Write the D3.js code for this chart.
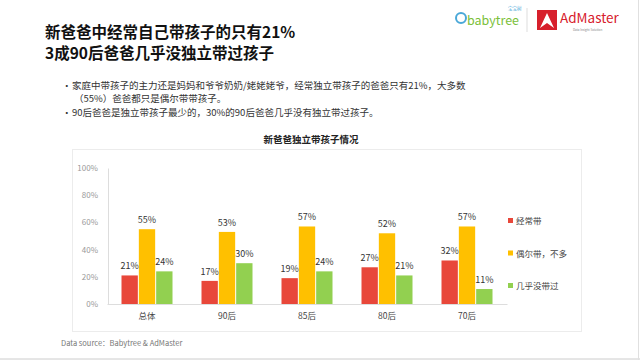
<!DOCTYPE html>
<html><head><meta charset="utf-8">
<script src="https://cdn.jsdelivr.net/npm/d3@7"></script>
<style>body{margin:0;background:#fff}svg{display:block}text{font-family:"Noto Sans CJK SC","Noto Sans",sans-serif}</style>
</head><body><svg id="c" width="640" height="360"></svg>
<script>
const categories = ["总体","90后","85后","80后","70后"];
const seriesNames = ["经常带","偶尔带，不多","几乎没带过"];
const often = [21,17,19,27,32];
const sometimes = [55,53,57,52,57];
const never = [24,30,24,21,11];
const yTicks = [0,20,40,60,80,100];
const colors = ["#E8473A","#FFC000","#92D050"];
const series = [often, sometimes, never];

const svg = d3.select("#c");
// slide border
svg.append("line").attr("x1",0).attr("x2",640).attr("y1",359).attr("y2",359).attr("stroke","#ccc");
svg.append("line").attr("x1",638.5).attr("x2",638.5).attr("y1",0).attr("y2",360).attr("stroke","#e0e0e0");

// title
const t = svg.append("g").attr("font-weight","bold").attr("font-size",15.5).attr("fill","#111");
t.append("text").attr("x",45).attr("y",38).text("新爸爸中经常自己带孩子的只有21%");
t.append("text").attr("x",45).attr("y",59).text("3成90后爸爸几乎没独立带过孩子");

// bullets
const b = svg.append("g").attr("font-size",9.5).attr("fill","#333");
b.append("text").attr("x",62).attr("y",89).text("•");
b.append("text").attr("x",72).attr("y",89).text("家庭中带孩子的主力还是妈妈和爷爷奶奶/姥姥姥爷，经常独立带孩子的爸爸只有21%，大多数");
b.append("text").attr("x",74).attr("y",102).text("（55%）爸爸都只是偶尔带带孩子。");
b.append("text").attr("x",62).attr("y",116).text("•");
b.append("text").attr("x",72).attr("y",116).text("90后爸爸是独立带孩子最少的，30%的90后爸爸几乎没有独立带过孩子。");

// logos
const lg = svg.append("g");
lg.append("circle").attr("cx",461).attr("cy",18).attr("r",5).attr("fill","none").attr("stroke","#4aa8d8").attr("stroke-width",2);
lg.append("text").attr("x",467).attr("y",25).attr("font-size",12.5).attr("fill","#7bbf3a").attr("font-family","Lato, sans-serif").text("babytree");
lg.append("text").attr("x",508).attr("y",10).attr("font-size",4.5).attr("fill","#4aa8d8").text("宝宝树");
lg.append("line").attr("x1",527).attr("x2",527).attr("y1",8).attr("y2",32).attr("stroke","#ddd");
lg.append("rect").attr("x",537).attr("y",10).attr("width",20).attr("height",20).attr("fill","#d7202c");
lg.append("path").attr("d","M540,28 L547,13 L554,28 L547,23 Z").attr("fill","#fff");
lg.append("text").attr("x",560).attr("y",23).attr("font-size",13.5).attr("fill","#d7202c").attr("font-family","Lato, sans-serif").text("AdMaster");
lg.append("text").attr("x",573).attr("y",31).attr("font-size",3).attr("fill","#888").attr("font-family","Lato, sans-serif").text("Data Insight Solution");

// chart frame
svg.append("rect").attr("x",72.5).attr("y",149.5).attr("width",509).attr("height",182).attr("fill","#fff").attr("stroke","#ececec");
svg.append("text").attr("x",311).attr("y",143).attr("text-anchor","middle").attr("font-size",9.5).attr("font-weight","bold").attr("fill","#222").text("新爸爸独立带孩子情况");

const x = d3.scaleBand().domain(categories).range([107,507]);
const inner = d3.scaleBand().domain(d3.range(3)).range([0,52]);
const y = d3.scaleLinear().domain([0,100]).range([304,168]);

// y axis
const ya = svg.append("g").attr("transform","translate(108,0)").call(d3.axisLeft(y).tickValues(yTicks).tickFormat(d=>d+"%").tickSize(0).tickPadding(10));
ya.select(".domain").attr("stroke","#ddd");
ya.selectAll("text").attr("fill","#999").attr("font-size",8).attr("font-family","Noto Sans, sans-serif");
// x axis
const xa = svg.append("g").attr("transform","translate(0,304)").call(d3.axisBottom(x).tickSize(0).tickPadding(9));
xa.select(".domain").attr("stroke","#ddd");
xa.selectAll("text").attr("fill","#444").attr("font-size",8.5);

const g = svg.append("g");
series.forEach((vals,si)=>{
  g.selectAll(null).data(vals).enter().append("rect")
    .attr("x",(d,i)=>x(categories[i])+(x.bandwidth()-52)/2+inner(si)+0.5)
    .attr("width",inner.bandwidth()-1)
    .attr("y",d=>y(d)).attr("height",d=>304-y(d)).attr("fill",colors[si]);
  g.selectAll(null).data(vals).enter().append("text")
    .attr("x",(d,i)=>x(categories[i])+(x.bandwidth()-52)/2+inner(si)+inner.bandwidth()/2)
    .attr("y",d=>y(d)-6).attr("text-anchor","middle").attr("font-size",9).attr("fill","#333")
    .attr("font-family","Noto Sans, sans-serif").text(d=>d+"%");
});

// legend
const leg = svg.append("g");
seriesNames.forEach((n,i)=>{
  const yy = 221 + i*32.5;
  leg.append("rect").attr("x",508).attr("y",yy-3).attr("width",5).attr("height",5).attr("fill",colors[i]);
  leg.append("text").attr("x",516).attr("y",yy+3).attr("font-size",8.5).attr("fill","#444").text(n);
});

svg.append("text").attr("x",61).attr("y",346).attr("font-size",7.5).attr("fill","#777").attr("font-family","Noto Sans, sans-serif").text("Data source：Babytree & AdMaster");
</script></body></html>
